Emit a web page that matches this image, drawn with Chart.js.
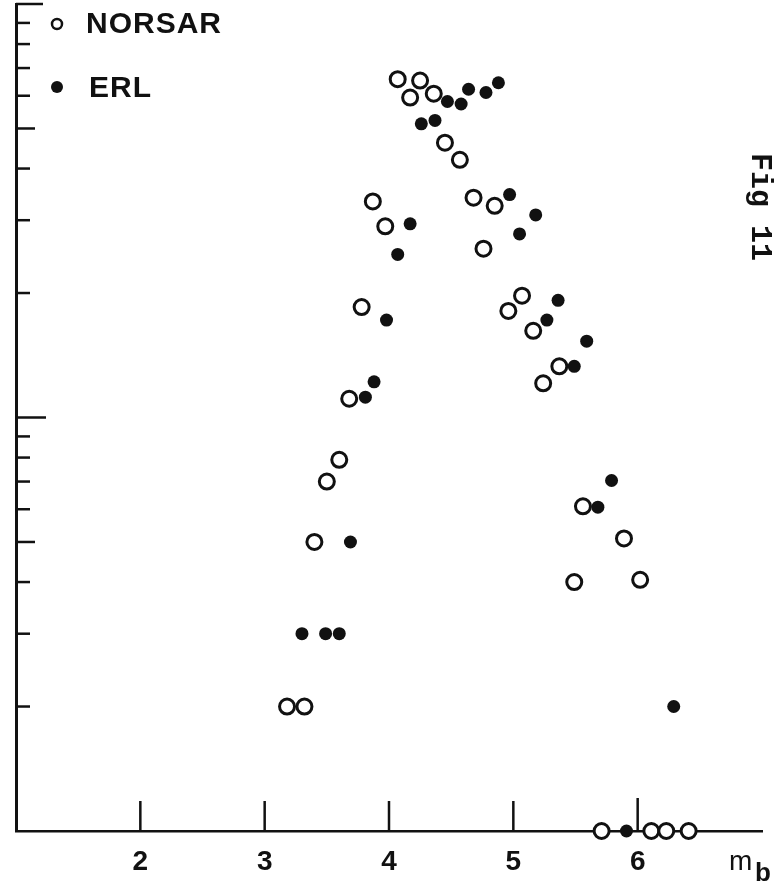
<!DOCTYPE html>
<html>
<head>
<meta charset="utf-8">
<script src="https://cdn.jsdelivr.net/npm/chart.js@4/dist/chart.umd.min.js"></script>
<style>
  html, body { margin: 0; padding: 0; background: #fff; }
  #wrap { position: relative; width: 782px; height: 882px; }
</style>
</head>
<body>
<div id="wrap"><canvas id="c" width="782" height="882"></canvas></div>
<script>
// ---- data ----
const seriesNames = ['NORSAR', 'ERL'];
const xTickValues = [2, 3, 4, 5, 6];
const xTickLabels = ['2', '3', '4', '5', '6'];
const yTickValues = [1, 2, 3, 4, 5, 6, 7, 8, 9, 10, 20, 30, 40, 50, 60, 70, 80, 90, 100];
const xAxisLabel = 'm';
const xAxisLabelSub = 'b';
const figLabel = 'Fig 11';

const norsarMb    = [4.07, 4.25, 4.17, 4.36, 4.45, 4.57, 3.87, 3.97, 4.68, 4.85, 4.76, 5.07, 4.96, 3.78, 5.16, 5.37, 5.24, 3.68, 3.60, 3.50, 3.40, 5.56, 5.89, 5.49, 6.02, 3.18, 3.32, 5.71, 6.11, 6.23, 6.41];
const norsarCount = [65.8, 65.3, 59.4, 60.7, 46.2, 42.0, 33.3, 29.0, 34.0, 32.5, 25.6, 19.7, 18.1, 18.5, 16.2, 13.3, 12.1, 11.1, 7.9, 7.0, 5.0, 6.1, 5.1, 4.0, 4.05, 2.0, 2.0, 1, 1, 1, 1];

const erlMb    = [4.64, 4.78, 4.88, 4.47, 4.58, 4.26, 4.37, 4.17, 4.07, 4.97, 5.18, 5.05, 5.36, 3.98, 5.27, 5.59, 5.49, 3.88, 3.81, 3.69, 3.30, 3.49, 3.60, 5.79, 5.68, 6.29, 5.91];
const erlCount = [62.2, 61.1, 64.5, 58.1, 57.3, 51.3, 52.3, 29.4, 24.8, 34.6, 30.9, 27.8, 19.2, 17.2, 17.2, 15.3, 13.3, 12.2, 11.2, 5.0, 3.0, 3.0, 3.0, 7.04, 6.07, 2.0, 1];

const toPts = (xs, ys) => xs.map((v, i) => ({ x: v, y: ys[i] }));
const INK = '#111';

// inner tick marks drawn from the library scales
const innerTicks = {
  id: 'innerTicks',
  beforeDatasetsDraw(chart) {
    const { ctx, chartArea, scales } = chart;
    const x = scales.x, y = scales.y;
    ctx.save();
    ctx.strokeStyle = INK;
    ctx.lineWidth = 2.5;
    ctx.lineCap = 'butt';
    yTickValues.forEach(v => {
      if (v === 1) return;
      const py = y.getPixelForValue(v);
      let len = 14;
      if (v === 5 || v === 50) len = 19;
      if (v === 10) len = 30;
      if (v === 100) len = 27;
      ctx.beginPath();
      ctx.moveTo(chartArea.left, py);
      ctx.lineTo(chartArea.left + len, py);
      ctx.stroke();
    });
    xTickValues.forEach(v => {
      const px = x.getPixelForValue(v);
      const len = v === 6 ? 33 : 30;
      ctx.beginPath();
      ctx.moveTo(px, chartArea.bottom);
      ctx.lineTo(px, chartArea.bottom - len);
      ctx.stroke();
    });
    ctx.restore();
  }
};

// legend, axis label and figure label
const annotations = {
  id: 'annotations',
  afterDraw(chart) {
    const { ctx } = chart;
    ctx.save();
    ctx.fillStyle = INK;
    ctx.strokeStyle = INK;
    const ds = chart.data.datasets;
    ctx.font = 'bold 30px "Liberation Sans", Arial, sans-serif';
    ctx.textBaseline = 'alphabetic';
    ctx.textAlign = 'left';
    try { ctx.letterSpacing = '1px'; } catch (e) {}
    ctx.lineWidth = 2.5;
    ctx.beginPath(); ctx.arc(57, 24, 5, 0, Math.PI * 2); ctx.stroke();
    ctx.fillText(ds[0].label, 86, 33);
    ctx.beginPath(); ctx.arc(57, 87, 6, 0, Math.PI * 2); ctx.fill();
    ctx.fillText(ds[1].label, 89, 97);
    try { ctx.letterSpacing = '0px'; } catch (e) {}
    // m_b
    ctx.font = '28px "Liberation Sans", Arial, sans-serif';
    ctx.fillText(xAxisLabel, 729, 870);
    ctx.font = 'bold 26px "Liberation Sans", Arial, sans-serif';
    ctx.fillText(xAxisLabelSub, 755, 881);
    // Fig 11 rotated
    ctx.translate(752, 153);
    ctx.rotate(Math.PI / 2);
    ctx.font = 'bold 30px "Liberation Mono", "Courier New", monospace';
    ctx.fillText(figLabel, 0, 0);
    ctx.restore();
  }
};

new Chart(document.getElementById('c'), {
  type: 'scatter',
  data: {
    datasets: [
      {
        label: seriesNames[0],
        data: toPts(norsarMb, norsarCount),
        pointStyle: 'circle',
        pointRadius: 7.5,
        pointBorderWidth: 3,
        pointBorderColor: INK,
        pointBackgroundColor: '#fff',
        showLine: false,
        clip: false
      },
      {
        label: seriesNames[1],
        data: toPts(erlMb, erlCount),
        pointStyle: 'circle',
        pointRadius: 6.5,
        pointBorderWidth: 0,
        pointBorderColor: INK,
        pointBackgroundColor: INK,
        showLine: false,
        clip: false
      }
    ]
  },
  options: {
    responsive: false,
    animation: false,
    devicePixelRatio: 1,
    layout: { autoPadding: false, padding: { left: 16, right: 20, top: 4, bottom: 0 } },
    plugins: {
      legend: { display: false },
      tooltip: { enabled: false }
    },
    scales: {
      x: {
        type: 'linear',
        min: 1,
        max: 7,
        afterBuildTicks: s => { s.ticks = [1, ...xTickValues, 7].map(v => ({ value: v })); },
        afterFit: s => { s.height = 51; },
        ticks: {
          color: INK,
          font: { size: 28, weight: 'bold', family: '"Liberation Sans", Arial, sans-serif' },
          padding: 14,
          maxRotation: 0,
          autoSkip: false,
          callback: v => { const i = xTickValues.indexOf(v); return i >= 0 ? xTickLabels[i] : ''; }
        },
        grid: { display: false, drawTicks: false },
        border: { display: true, color: INK, width: 2.5 }
      },
      y: {
        type: 'logarithmic',
        min: 1,
        max: 100,
        afterBuildTicks: s => { s.ticks = yTickValues.map(v => ({ value: v })); },
        afterFit: s => { s.width = 0; },
        ticks: { display: false },
        grid: { display: false, drawTicks: false },
        border: { display: true, color: INK, width: 3 }
      }
    }
  },
  plugins: [innerTicks, annotations]
});
</script>
</body>
</html>
